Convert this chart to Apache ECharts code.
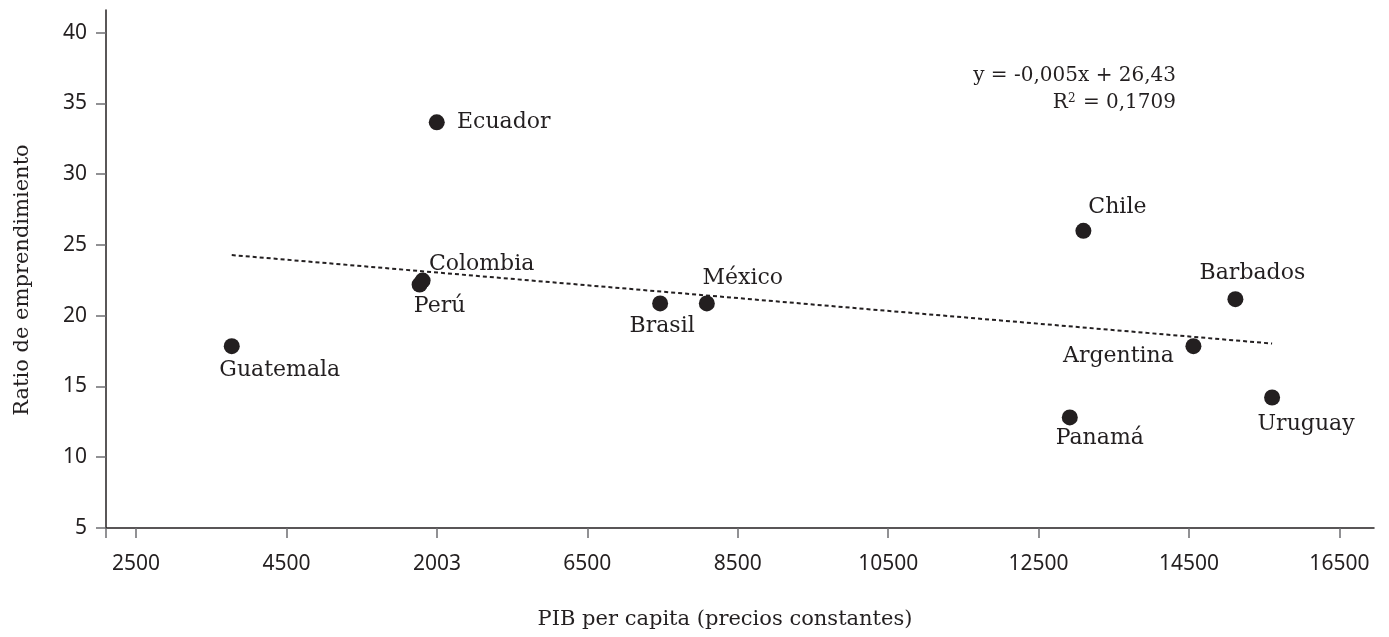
<!DOCTYPE html>
<html>
<head>
<meta charset="utf-8">
<script src="https://cdn.jsdelivr.net/npm/echarts@6/dist/echarts.min.js"></script>
<style>
  html, body { margin: 0; padding: 0; background: #fff; }
  #chart { width: 1389px; height: 637px; }
</style>
</head>
<body>
<div id="chart"></div>
<script>
// Países y sus valores
const countries = ['Guatemala', 'Perú', 'Colombia', 'Ecuador', 'Brasil', 'México',
                   'Panamá', 'Chile', 'Argentina', 'Barbados', 'Uruguay'];
const pibPerCapita = [1772, 4270, 4310, 4498, 7468, 8089, 12915, 13096, 14559, 15117, 15605];
const ratioEmprendimiento = [17.85, 22.20, 22.48, 33.66, 20.87, 20.87, 12.81, 26.00, 17.85, 21.17, 14.22];

// Marcas del eje X y sus rótulos
const xTickValues = [500, 2500, 4500, 6500, 8500, 10500, 12500, 14500, 16500];
const xTickLabels = ['2500', '4500', '2003', '6500', '8500', '10500', '12500', '14500', '16500'];
// Marcas del eje Y
const yTickValues = [5, 10, 15, 20, 25, 30, 35, 40];

// Texto de la línea de tendencia
const trendEquation = 'y = -0,005x + 26,43';
const trendR2 = '0,1709';

// Desplazamiento de cada etiqueta respecto a su punto (px)
const labelOffsets = [
  [48, 24], [20, 22], [59, -16], [67, 0], [2, 23], [36, -25],
  [30, 21], [34, -24], [-75, 10], [17, -26], [34, 27]
];

// Recta de mínimos cuadrados sobre los puntos
function leastSquares(xs, ys) {
  const n = xs.length;
  const mx = xs.reduce((a, b) => a + b, 0) / n;
  const my = ys.reduce((a, b) => a + b, 0) / n;
  let sxy = 0, sxx = 0;
  for (let i = 0; i < n; i++) {
    sxy += (xs[i] - mx) * (ys[i] - my);
    sxx += (xs[i] - mx) * (xs[i] - mx);
  }
  const slope = sxy / sxx;
  return { slope, intercept: my - slope * mx };
}
const fit = leastSquares(pibPerCapita, ratioEmprendimiento);
const xMin = Math.min(...pibPerCapita);
const xMax = Math.max(...pibPerCapita);
const trendData = [
  [xMin, fit.intercept + fit.slope * xMin],
  [xMax, fit.intercept + fit.slope * xMax]
];

const ink = '#231f20';
const tickInk = '#6d6e71';
const serif = 'DejaVu Serif';
const sans = 'Noto Sans';

const chart = echarts.init(document.getElementById('chart'), null, { renderer: 'canvas' });

chart.setOption({
  backgroundColor: '#ffffff',
  animation: false,
  grid: { left: 106, right: 15, top: 10, bottom: 109, containLabel: false, outerBoundsMode: 'none' },
  xAxis: {
    type: 'value',
    min: 100,
    max: 16960,
    name: 'PIB per capita (precios constantes)',
    nameLocation: 'middle',
    nameGap: 81,
    nameTextStyle: { fontFamily: serif, fontSize: 21, color: ink, padding: [0, 30, 0, 0] },
    axisLine: { show: true, lineStyle: { color: ink, width: 1.5 } },
    axisTick: {
      show: true, length: 10, inside: false,
      customValues: [100].concat(xTickValues),
      lineStyle: { color: tickInk, width: 1.5 }
    },
    axisLabel: {
      customValues: xTickValues,
      margin: 26,
      fontFamily: sans, fontSize: 21, color: ink,
      formatter: v => {
        const i = xTickValues.indexOf(v);
        return i >= 0 ? xTickLabels[i] : '';
      }
    },
    splitLine: { show: false }
  },
  yAxis: {
    type: 'value',
    min: 5,
    max: 41.6,
    name: 'Ratio de emprendimiento',
    nameLocation: 'middle',
    nameGap: 73,
    nameRotate: 90,
    nameTextStyle: { fontFamily: serif, fontSize: 21, color: ink, padding: [0, 22, 0, 0] },
    axisLine: { show: true, lineStyle: { color: ink, width: 1.5 } },
    axisTick: {
      show: true, length: 10, inside: false,
      customValues: yTickValues,
      lineStyle: { color: tickInk, width: 1.5 }
    },
    axisLabel: {
      customValues: yTickValues,
      margin: 19,
      fontFamily: sans, fontSize: 21, color: ink
    },
    splitLine: { show: false }
  },
  series: [
    {
      type: 'line',
      data: trendData,
      showSymbol: false,
      symbol: 'none',
      silent: true,
      z: 1,
      lineStyle: { color: ink, width: 2, type: [4, 3] }
    },
    {
      type: 'scatter',
      z: 2,
      symbol: 'circle',
      symbolSize: 16,
      itemStyle: { color: ink, opacity: 1 },
      label: {
        show: true,
        position: 'inside',
        formatter: p => p.name,
        fontFamily: serif,
        fontSize: 22,
        color: ink,
        align: 'center',
        verticalAlign: 'middle'
      },
      data: pibPerCapita.map((x, i) => ({
        name: countries[i],
        value: [x, ratioEmprendimiento[i]],
        label: { offset: labelOffsets[i] }
      }))
    }
  ],
  graphic: [
    {
      type: 'text',
      right: 1389 - 1176,
      top: 66,
      style: {
        text: trendEquation,
        font: '20px "' + serif + '"',
        fill: ink,
        textAlign: 'right'
      }
    },
    {
      type: 'text',
      right: 1389 - 1176,
      top: 93,
      style: {
        text: 'R{sup|2} = ' + trendR2,
        font: '20px "' + serif + '"',
        fill: ink,
        textAlign: 'right',
        rich: {
          sup: { fontSize: 12, verticalAlign: 'top', padding: [0, 1, 8, 0], fontFamily: serif, fill: ink }
        }
      }
    }
  ]
});
</script>
</body>
</html>
